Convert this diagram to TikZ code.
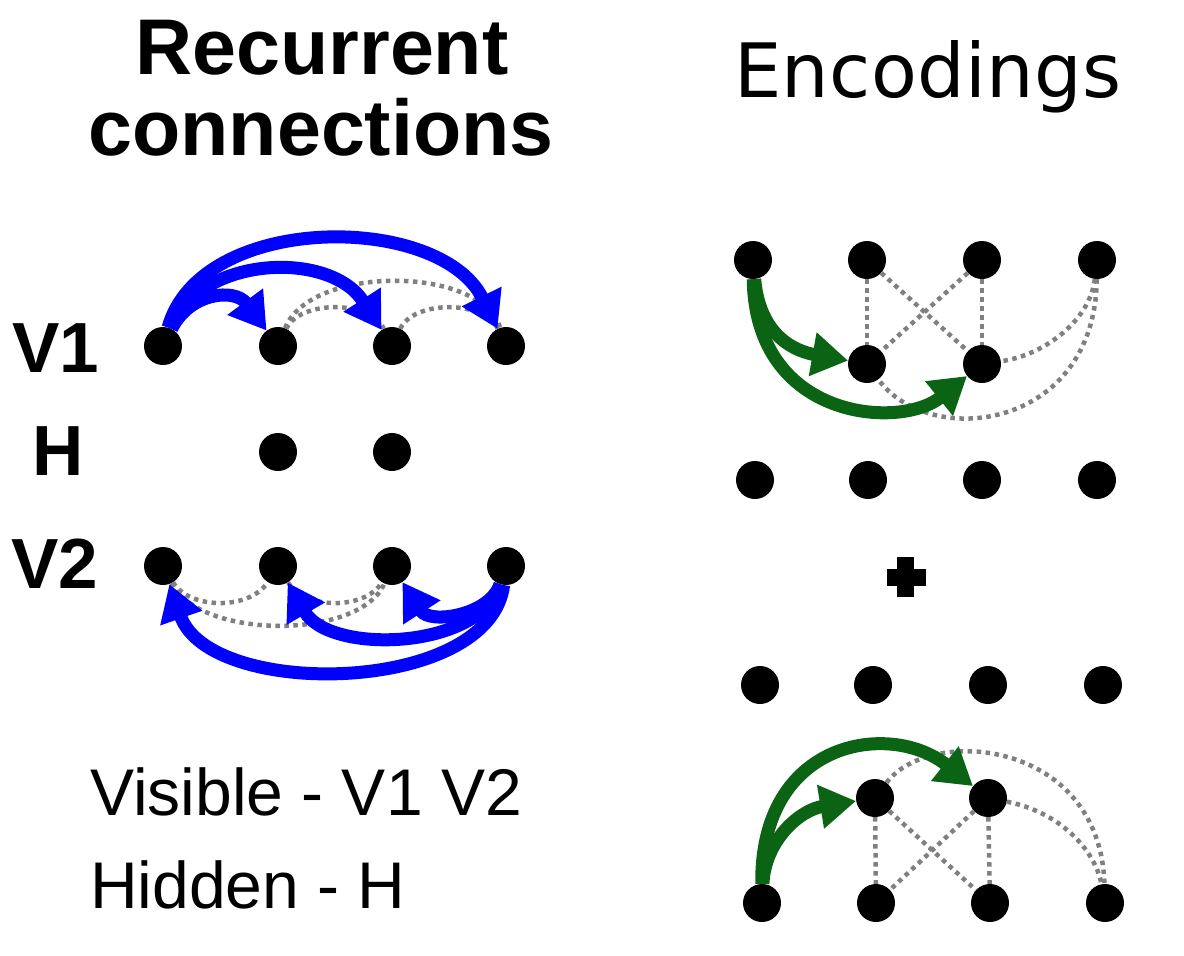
\documentclass[tikz,border=0pt]{standalone}
\usepackage{fontspec}
\setmainfont{Liberation Sans}
\newfontfamily\encfont[LetterSpace=0.5]{DejaVu Sans}
\usetikzlibrary{arrows.meta}
\definecolor{myblue}{RGB}{0,0,255}
\definecolor{mygreen}{RGB}{10,100,20}
\definecolor{mygray}{RGB}{128,128,128}
\tikzset{
  dot/.style={circle,fill=black,minimum size=38pt,inner sep=0pt},
  bluearrow/.style={draw=myblue,line width=13pt,-{Triangle[length=36pt,width=42pt]}},
  greenarrow/.style={draw=mygreen,line width=13pt,-{Triangle[length=36pt,width=42pt]}},
  dotline/.style={draw=mygray,line width=4.5pt,dash pattern=on 4.5pt off 4.5pt},
  lbl/.style={inner sep=0pt,anchor=base,font=\fontsize{71}{71}\selectfont\bfseries},
  legend/.style={inner sep=0pt,anchor=base west,font=\fontsize{66}{66}\selectfont},
}
\begin{document}
\begin{tikzpicture}[x=1pt,y=-1pt]
\useasboundingbox (0,0) rectangle (1184,956);
% titles
\node[inner sep=0pt,anchor=base,font=\fontsize{79}{81}\selectfont\bfseries] (t1) at (322,74) {Recurrent};
\node[inner sep=0pt,anchor=base,font=\fontsize{79}{81}\selectfont\bfseries] (t1b) at (321,155) {connections};
\node[inner sep=0pt,anchor=base,font=\fontsize{75}{75}\selectfont\encfont] (t2) at (928,97) {Encodings};
% row labels
\node[lbl] (lv1) at (56,372) {V1};
\node[lbl] (lh) at (58,475) {H};
\node[lbl] (lv2) at (55,588) {V2};
% legend
\node[legend] (leg1) at (90,815) {Visible - V1 V2};
\node[legend] (leg2) at (90,908) {Hidden - H};
% left dots
\node[dot] (v1a) at (163,346) {};
\node[dot] (v1b) at (278,346) {};
\node[dot] (v1c) at (392,346) {};
\node[dot] (v1d) at (506,346) {};
\node[dot] (ha) at (278,452) {};
\node[dot] (hb) at (392,452) {};
\node[dot] (v2a) at (163,566) {};
\node[dot] (v2b) at (278,566) {};
\node[dot] (v2c) at (392,566) {};
\node[dot] (v2d) at (506,566) {};
% V1 dotted
\draw[dotline] (v1b) .. controls (300,300) and (370,300) .. (v1c);
\draw[dotline] (v1c) .. controls (414,300) and (484,300) .. (v1d);
\draw[dotline] (v1b) .. controls (310,265) and (480,265) .. (v1d);
% V1 blue
\draw[bluearrow] (v1a) .. controls (190,292) and (235,288) .. (v1b);
\draw[bluearrow] (v1a) .. controls (200,255) and (330,250) .. (v1c);
\draw[bluearrow] (v1a) .. controls (200,212) and (440,212) .. (v1d);
% V2 dotted
\draw[dotline] (v2a) .. controls (190,610) and (250,610) .. (v2b);
\draw[dotline] (v2b) .. controls (305,610) and (365,610) .. (v2c);
\draw[dotline] (v2a) .. controls (200,640) and (360,640) .. (v2c);
% V2 blue
\draw[bluearrow] (v2d) .. controls (490,615) and (430,625) .. (v2c);
\draw[bluearrow] (v2d) .. controls (480,650) and (330,655) .. (v2b);
\draw[bluearrow] (v2d) .. controls (490,695) and (210,700) .. (v2a);
% right top
\node[dot] (r1a) at (753,260) {};
\node[dot] (r1b) at (867,260) {};
\node[dot] (r1c) at (982,260) {};
\node[dot] (r1d) at (1097,260) {};
\node[dot] (r2a) at (867,364) {};
\node[dot] (r2b) at (982,364) {};
\draw[dotline] (r1b) -- (r2a);
\draw[dotline] (r1b) -- (r2b);
\draw[dotline] (r1c) -- (r2a);
\draw[dotline] (r1c) -- (r2b);
\draw[dotline] (r1d) .. controls (1090,320) and (1045,355) .. (r2b);
\draw[dotline] (r1d) .. controls (1095,430) and (930,450) .. (r2a);
\draw[greenarrow] (r1a) .. controls (760,340) and (800,352) .. (r2a);
\draw[greenarrow] (r1a) .. controls (755,420) and (900,430) .. (r2b);
% middle rows
\node[dot] (r3a) at (755,480) {};
\node[dot] (r3b) at (868,480) {};
\node[dot] (r3c) at (982,480) {};
\node[dot] (r3d) at (1097,480) {};
\fill[black] (897,557) rectangle (914,597);
\fill[black] (887,569) rectangle (926,586);
\node[dot] (r4a) at (760,685) {};
\node[dot] (r4b) at (873,685) {};
\node[dot] (r4c) at (988,685) {};
\node[dot] (r4d) at (1103,685) {};
% bottom right
\node[dot] (r5a) at (875,798) {};
\node[dot] (r5b) at (988,798) {};
\node[dot] (r6a) at (762,903) {};
\node[dot] (r6b) at (876,903) {};
\node[dot] (r6c) at (990,903) {};
\node[dot] (r6d) at (1105,903) {};
\draw[dotline] (r5a) -- (r6b);
\draw[dotline] (r5a) -- (r6c);
\draw[dotline] (r5b) -- (r6b);
\draw[dotline] (r5b) -- (r6c);
\draw[dotline] (r5b) .. controls (1060,812) and (1095,850) .. (r6d);
\draw[dotline] (r5a) .. controls (930,725) and (1100,740) .. (r6d);
\draw[greenarrow] (r6a) .. controls (765,840) and (800,810) .. (r5a);
\draw[greenarrow] (r6a) .. controls (760,740) and (890,720) .. (r5b);
\end{tikzpicture}
\end{document}
